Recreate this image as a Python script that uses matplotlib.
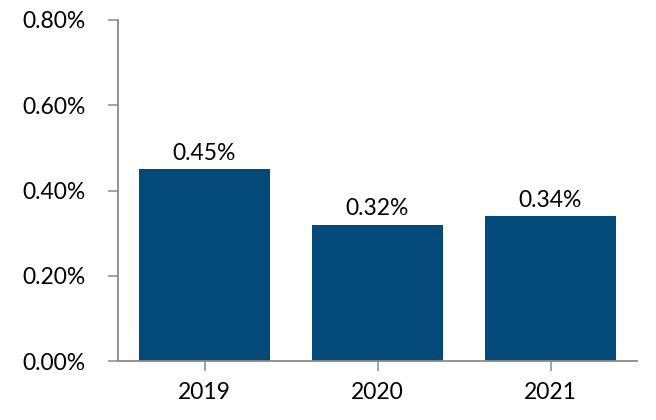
import matplotlib
matplotlib.use("Agg")
import matplotlib.pyplot as plt
from matplotlib.ticker import PercentFormatter, FixedLocator

categories = ["2019", "2020", "2021"]
values = [0.45, 0.32, 0.34]
value_labels = ["0.45%", "0.32%", "0.34%"]
yticks = [0.0, 0.2, 0.4, 0.6, 0.8]

plt.rcParams['font.family'] = ['Lato', 'DejaVu Sans']
FS = 16.5

fig = plt.figure(figsize=(6.56, 4.2), dpi=100)
ax = fig.add_axes([118/656, 1 - 361/420, (637 - 118)/656, (361 - 20)/420])

x = list(range(len(categories)))
bars = ax.bar(x, values, width=0.76, color="#03497A", zorder=2)

for b, lab in zip(bars, value_labels):
    ax.annotate(lab, (b.get_x() + b.get_width()/2, b.get_height()),
                xytext=(0, 4), textcoords="offset points",
                ha="center", va="bottom", fontsize=FS, color="black")

ax.set_xlim(-0.5, 2.5)
ax.set_ylim(0, 0.8)
ax.set_xticks(x)
ax.set_xticklabels(categories)
ax.yaxis.set_major_locator(FixedLocator(yticks))
ax.yaxis.set_major_formatter(PercentFormatter(xmax=100, decimals=2))

for s in ["top", "right"]:
    ax.spines[s].set_visible(False)
for s in ["left", "bottom"]:
    ax.spines[s].set_color("#8a8a8a")
    ax.spines[s].set_linewidth(1.3)

ax.tick_params(axis="y", length=7.5, width=1.1, color="#8a8a8a", pad=16, labelsize=FS)
ax.tick_params(axis="x", length=7, width=1.1, color="#8a8a8a", pad=8, labelsize=FS)

fig.savefig("out.png", dpi=100)
